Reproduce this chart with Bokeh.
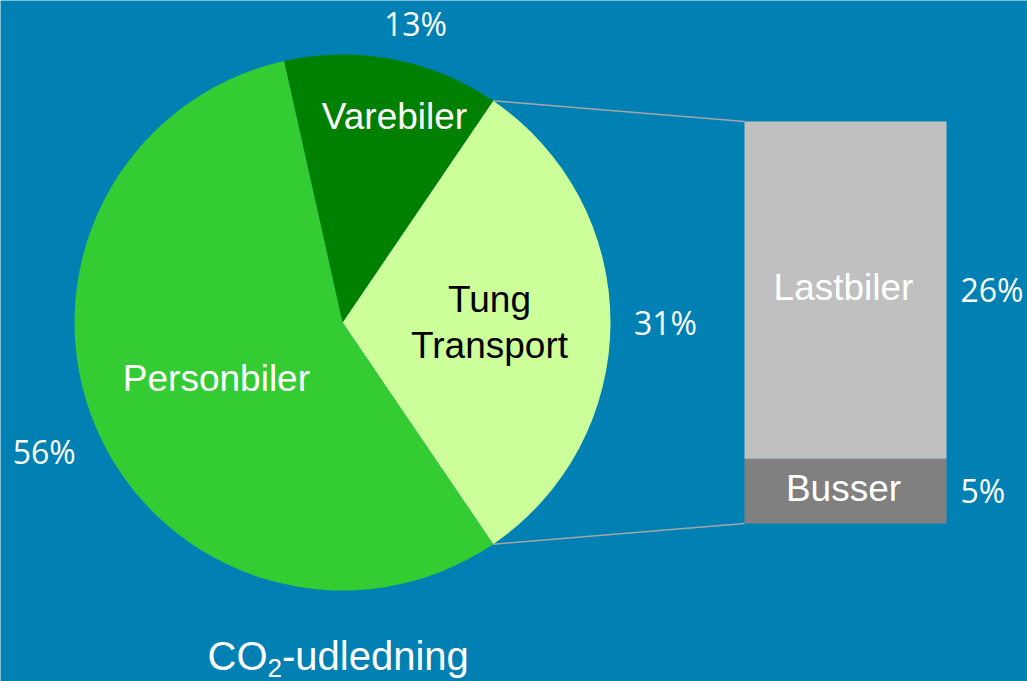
import math
from bokeh.plotting import figure
from bokeh.models import Range1d
from bokeh.core.properties import value
from bokeh.embed import file_html
from bokeh.resources import INLINE

# ---- data ----
pie_labels = ["Tung\nTransport", "Varebiler", "Personbiler"]
pie_values = [31, 13, 56]
pie_pct = ["31%", "13%", "56%"]
bar_labels = ["Busser", "Lastbiler"]
bar_values = [5, 26]
bar_pct = ["5%", "26%"]
title_parts = ["CO", "2", "-udledning"]

# ---- styles ----
BG = "#0080B3"
pie_colors = ["#CCFF99", "#008000", "#33CC33"]
pie_text_colors = ["black", "white", "white"]
bar_colors = ["#808080", "#C0C0C0"]
W, H = 1027, 681
cx, cy, R = 342, H - 322, 268
label_r = [147, 212, 138]
pct_r = [323, 308, 325]
label_rot_adj = [0, -3.4, 0.6]
pct_rot_adj = [0, -2.9, 0]

p = figure(width=W, height=H, x_range=Range1d(0, W), y_range=Range1d(0, H),
           output_backend="svg", toolbar_location=None, min_border=0,
           background_fill_color=BG, border_fill_color=BG, outline_line_color=None)
p.axis.visible = False
p.grid.visible = False

total = sum(pie_values)
start0 = -math.pi * pie_values[0] / total
starts, ends, mids = [], [], []
a = start0
for v in pie_values:
    s = a
    e = a + 2 * math.pi * v / total
    starts.append(s); ends.append(e); mids.append((s + e) / 2)
    a = e

p.wedge(x=cx, y=cy, radius=R, start_angle=starts, end_angle=ends,
        fill_color=pie_colors, line_color=None)

# pie labels
for lab, m, r, adj, col in zip(pie_labels, mids, label_r, label_rot_adj, pie_text_colors):
    ang = m + math.radians(adj)
    p.text(x=[cx + r * math.cos(ang)], y=[cy + r * math.sin(ang)], text=[lab],
           text_align="center", text_baseline="middle", text_color=col,
           text_font=value("Liberation Sans"), text_font_size="37px",
           text_line_height=1.1)
for pct, m, r, adj in zip(pie_pct, mids, pct_r, pct_rot_adj):
    ang = m + math.radians(adj)
    p.text(x=[cx + r * math.cos(ang)], y=[cy + r * math.sin(ang)], text=[pct],
           text_align="center", text_baseline="middle", text_color="white",
           text_font=value("Open Sans"), text_font_size="32px")

# bar of pie
bx0, bx1 = 744, 946
by0, by1 = H - 523, H - 121
scale = (by1 - by0) / sum(bar_values)
bottoms, tops = [], []
acc = by0
for v in bar_values:
    bottoms.append(acc); acc += v * scale; tops.append(acc)
p.quad(left=bx0, right=bx1, bottom=bottoms, top=tops, fill_color=bar_colors, line_color=None)
for lab, b, t in zip(bar_labels, bottoms, tops):
    p.text(x=[(bx0 + bx1) / 2 - 2], y=[(b + t) / 2 + 3], text=[lab], text_align="center",
           text_baseline="middle", text_color="white",
           text_font=value("Liberation Sans"), text_font_size="37px")
for pct, b, t in zip(bar_pct, bottoms, tops):
    p.text(x=[bx1 + 14], y=[(b + t) / 2 + 1], text=[pct], text_align="left",
           text_baseline="middle", text_color="white",
           text_font=value("Open Sans"), text_font_size="32px")

# connector lines
ex = cx + R * math.cos(starts[0])
p.segment(x0=[ex, ex], y0=[cy + R * math.sin(ends[0]), cy + R * math.sin(starts[0])],
          x1=[bx0, bx0], y1=[by1, by0], line_color="#A6A6A6", line_width=1.5)

# title with subscript
tx = 207
mid = H - 655
p.text(x=[tx], y=[mid], text=[title_parts[0]], text_align="left", text_baseline="middle",
       text_color="white", text_font=value("Liberation Sans"), text_font_size="40px")
p.text(x=[tx + 60], y=[mid - 12], text=[title_parts[1]], text_align="left", text_baseline="middle",
       text_color="white", text_font=value("Liberation Sans"), text_font_size="26px")
p.text(x=[tx + 74.5], y=[mid], text=[title_parts[2]], text_align="left", text_baseline="middle",
       text_color="white", text_font=value("Liberation Sans"), text_font_size="40px")

open("out.html", "w").write(file_html(p, INLINE))
